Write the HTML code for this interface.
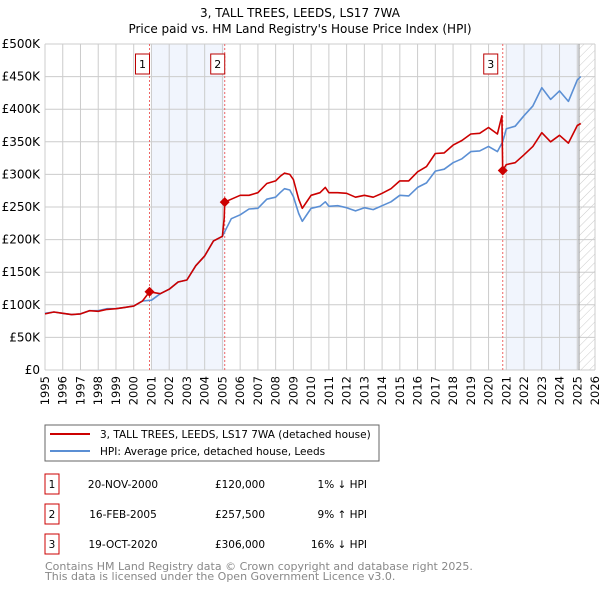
<!DOCTYPE html>
<html><head><meta charset="utf-8"><style>
body{margin:0;background:#fff;font-family:"DejaVu Sans","Liberation Sans",sans-serif}
svg{display:block}
</style></head><body>
<svg id="c" width="600" height="590" xmlns="http://www.w3.org/2000/svg" font-family="DejaVu Sans, Liberation Sans, sans-serif">
<defs><pattern id="hatch" width="6" height="6" patternUnits="userSpaceOnUse" patternTransform="rotate(45)"><line x1="0" y1="0" x2="0" y2="6" stroke="#ccc" stroke-width="1"/></pattern></defs>
<text x="300" y="17" text-anchor="middle" font-size="12" fill="#000">3, TALL TREES, LEEDS, LS17 7WA</text>
<text x="300" y="33" text-anchor="middle" font-size="12" fill="#000">Price paid vs. HM Land Registry's House Price Index (HPI)</text>
<g id="plot"></g>
<g>
<rect x="45" y="425" width="334" height="36" fill="#fff" stroke="#666"/>
<line x1="50" y1="434" x2="90" y2="434" stroke="#cc0000" stroke-width="2"/>
<text x="100" y="438" font-size="10.5">3, TALL TREES, LEEDS, LS17 7WA (detached house)</text>
<line x1="50" y1="451" x2="90" y2="451" stroke="#5b8fd4" stroke-width="2"/>
<text x="100" y="455" font-size="10.5">HPI: Average price, detached house, Leeds</text>
</g>
<g id="table" font-size="10.5"></g>
<text x="45" y="570" font-size="11" fill="#888">Contains HM Land Registry data © Crown copyright and database right 2025.</text>
<text x="45" y="580" font-size="11" fill="#888">This data is licensed under the Open Government Licence v3.0.</text>
</svg>
<script>
const hpiYears=[1995,1995.5,1996,1996.5,1997,1997.5,1998,1998.5,1999,1999.5,2000,2000.5,2001,2001.5,2002,2002.5,2003,2003.5,2004,2004.5,2005,2005.5,2006,2006.5,2007,2007.5,2008,2008.25,2008.5,2008.8,2009,2009.3,2009.5,2009.8,2010,2010.5,2010.8,2011,2011.5,2012,2012.5,2013,2013.5,2014,2014.5,2015,2015.5,2016,2016.5,2017,2017.5,2018,2018.5,2019,2019.5,2020,2020.5,2020.8,2021,2021.5,2022,2022.5,2023,2023.5,2024,2024.5,2025,2025.2];
const hpiValues=[87,89,87,85,86,91,91,94,94,96,98,106,107,117,124,135,138,160,175,198,205,232,238,247,248,262,265,272,278,276,266,240,228,240,248,251,258,251,252,249,244,249,246,252,258,268,267,280,287,305,308,318,324,335,336,343,335,350,370,374,390,405,433,415,428,412,445,450];
const priceYears=[1995,1995.5,1996,1996.5,1997,1997.5,1998,1998.5,1999,1999.5,2000,2000.5,2000.89,2001.5,2002,2002.5,2003,2003.5,2004,2004.5,2005,2005.1,2005.13,2005.5,2006,2006.5,2007,2007.5,2008,2008.25,2008.5,2008.8,2009,2009.3,2009.5,2009.8,2010,2010.5,2010.8,2011,2011.5,2012,2012.5,2013,2013.5,2014,2014.5,2015,2015.5,2016,2016.5,2017,2017.5,2018,2018.5,2019,2019.5,2020,2020.5,2020.75,2020.8,2021,2021.5,2022,2022.5,2023,2023.5,2024,2024.5,2025,2025.2];
const priceValues=[86,89,87,85,86,91,90,93,94,96,98,106,120,117,124,135,138,160,175,198,205,233,257.5,262,268,268,272,286,290,297,302,300,292,262,248,260,268,272,280,272,272,271,265,268,265,271,278,290,290,304,312,332,333,345,352,362,363,372,362,390,306,315,318,330,343,364,350,360,348,375,378];
const sales=[{n:"1",y:2000.89,v:120,d:"20-NOV-2000",p:"£120,000",h:"1% ↓ HPI"},{n:"2",y:2005.13,v:257.5,d:"16-FEB-2005",p:"£257,500",h:"9% ↑ HPI"},{n:"3",y:2020.8,v:306,d:"19-OCT-2020",p:"£306,000",h:"16% ↓ HPI"}];
const yTicks=[0,50,100,150,200,250,300,350,400,450,500];
const yTickLabels=["£0","£50K","£100K","£150K","£200K","£250K","£300K","£350K","£400K","£450K","£500K"];
const xTicks=[1995,1996,1997,1998,1999,2000,2001,2002,2003,2004,2005,2006,2007,2008,2009,2010,2011,2012,2013,2014,2015,2016,2017,2018,2019,2020,2021,2022,2023,2024,2025,2026];
const NS="http://www.w3.org/2000/svg";
const X0=45,X1=595,Y0=370,Y1=44;
const xs=y=>X0+(y-1995)/(2026-1995)*(X1-X0);
const ys=v=>Y0-v/500*(Y0-Y1);
const g=document.getElementById('plot');
function mk(t,a,p){const e=document.createElementNS(NS,t);for(const k in a)e.setAttribute(k,a[k]);(p||g).appendChild(e);return e;}
let e;
e=mk('rect',{x:xs(2001),y:Y1,width:xs(2005.13)-xs(2001),height:Y0-Y1,fill:'#eef3fc',opacity:0.8});


e=mk('rect',{x:xs(2021),y:Y1,width:xs(2025.1)-xs(2021),height:Y0-Y1,fill:'#eef3fc',opacity:0.8});


e=mk('rect',{x:xs(2025.1),y:Y1,width:X1-xs(2025.1),height:Y0-Y1,fill:'url(#hatch)'});


xTicks.forEach((t,i)=>{
e=mk('line',{x1:xs(t),x2:xs(t),y1:Y1,y2:Y0,stroke:'#ccc','stroke-width':1});


e=mk('text',{x:0,y:0,'font-size':11.5,'text-anchor':'end',transform:`translate(${xs(t)+4},${Y0+6}) rotate(-90)`});
e.textContent=t;


});
yTicks.forEach((t,i)=>{
e=mk('line',{x1:X0,x2:X1,y1:ys(t),y2:ys(t),stroke:'#ccc','stroke-width':1});


e=mk('text',{x:X0-5,y:ys(t)+4,'font-size':12,'text-anchor':'end'});
e.textContent=yTickLabels[i];


});
e=mk('line',{x1:xs(2025.1),x2:xs(2025.1),y1:Y1,y2:Y0,stroke:'#999','stroke-width':1});


sales.forEach(s=>{
e=mk('line',{x1:xs(s.y),x2:xs(s.y),y1:Y1,y2:Y0,stroke:'#e66','stroke-width':1,'stroke-dasharray':'2,2'});


});
function path(xa,va,col,name){
let d=xa.map((y,i)=>(i?'L':'M')+xs(y).toFixed(1)+','+ys(va[i]).toFixed(1)).join('');
e=mk('path',{d:d,fill:'none',stroke:col,'stroke-width':1.6,'stroke-linejoin':'round'});


}
path(hpiYears,hpiValues,'#5b8fd4','hpi-line');
path(priceYears,priceValues,'#cc0000','price-line');
sales.forEach(s=>{
const cx=xs(s.y),cy=ys(s.v);
e=mk('path',{d:`M${cx},${cy-5}L${cx+5},${cy}L${cx},${cy+5}L${cx-5},${cy}Z`,fill:'#cc0000'});


const bx=cx-(s.n==='3'?12:7);
e=mk('rect',{x:bx-7,y:54,width:14,height:20,fill:'#fff',stroke:'#b00','stroke-width':1});


e=mk('text',{x:bx,y:68,'font-size':11,'text-anchor':'middle'});
e.textContent=s.n;


});
const tb=document.getElementById('table');
sales.forEach((s,i)=>{
const cy=483+i*30;
e=mk('rect',{x:45,y:cy-9,width:14,height:20,fill:'#fff',stroke:'#cc0000'},tb);


e=mk('text',{x:52,y:cy+5,'text-anchor':'middle'},tb);e.textContent=s.n;


e=mk('text',{x:123,y:cy+5,'text-anchor':'middle'},tb);e.textContent=s.d;


e=mk('text',{x:240,y:cy+5,'text-anchor':'middle'},tb);e.textContent=s.p;


e=mk('text',{x:367,y:cy+5,'text-anchor':'end'},tb);e.textContent=s.h;


});
</script>
</body></html>
